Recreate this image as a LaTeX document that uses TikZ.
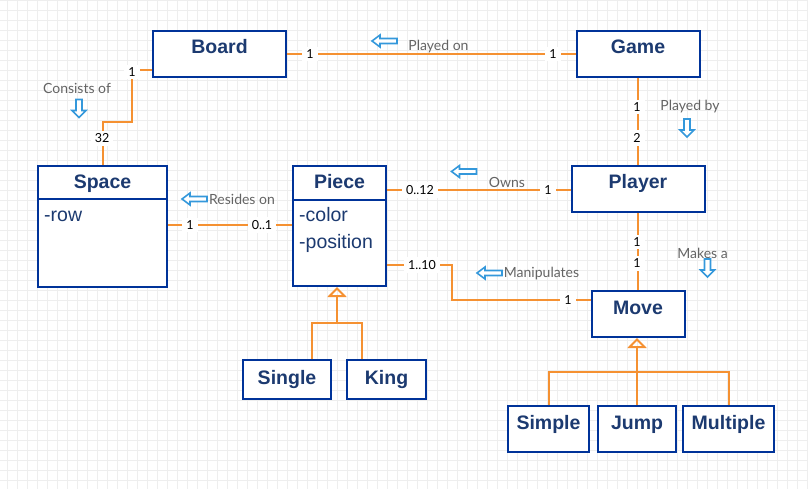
\documentclass[tikz,border=0pt]{standalone}
\usepackage{fontspec}
\setmainfont{Liberation Sans}
\newfontfamily\latofont{Lato}
\usetikzlibrary{arrows.meta,calc}
\definecolor{navy}{RGB}{0,51,153}
\definecolor{titlec}{RGB}{28,58,112}
\definecolor{orng}{RGB}{245,145,50}
\definecolor{arrblue}{RGB}{52,152,219}
\definecolor{lblgray}{RGB}{100,100,100}
\definecolor{gridc}{RGB}{238,238,238}
\tikzset{
  box/.style={draw=navy,line width=2pt,fill=white,inner sep=0pt,rectangle},
  title/.style={font=\fontsize{19.5}{22}\selectfont\bfseries,text=titlec,anchor=base,inner sep=0pt},
  attr/.style={font=\fontsize{19.5}{22}\selectfont,text=titlec,anchor=base west,inner sep=0pt},
  conn/.style={draw=orng,line width=2pt},
  mult/.style={font=\latofont\fontsize{12.5}{14}\selectfont,fill=white,inner xsep=4pt,inner ysep=3pt},
  rel/.style={font=\latofont\fontsize{14}{16}\selectfont,text=lblgray,inner sep=0pt},
  barrow/.style={draw=arrblue,line width=1.6pt,fill=white,line join=miter},
  inh/.style={-{Triangle[open,width=19pt,length=10pt]}},
  gridline/.style={draw=gridc,line width=0.8pt},
  larrow/.pic={\path[barrow] (-12.5,0) -- (-4.5,-6) -- (-4.5,-2.5) -- (12.5,-2.5) -- (12.5,2.5) -- (-4.5,2.5) -- (-4.5,6) -- cycle;},
  darrow/.pic={\path[barrow] (0,9) -- (-7,2) -- (-3,2) -- (-3,-9) -- (3,-9) -- (3,2) -- (7,2) -- cycle;}
}
\begin{document}
\begin{tikzpicture}[x=1pt,y=-1pt]
\useasboundingbox (0,0) rectangle (808,489);
\fill[white] (0,0) rectangle (808,489);
\foreach \gx in {7,17,...,807} \draw[gridline] (\gx,0) -- (\gx,489);
\foreach \gy in {0,10,...,480} \draw[gridline] (0,\gy) -- (808,\gy);

% boxes
\node[box,minimum width=133pt,minimum height=46pt] (Board) at (219.5,54) {};
\node[box,minimum width=123pt,minimum height=46pt] (Game) at (638,54) {};
\node[box,minimum width=129pt,minimum height=121pt] (Space) at (102.5,226.5) {};
\node[box,minimum width=93pt,minimum height=120pt] (Piece) at (339.5,226) {};
\node[box,minimum width=133pt,minimum height=46pt] (Player) at (638,189) {};
\node[box,minimum width=93pt,minimum height=46pt] (Move) at (638,314) {};
\node[box,minimum width=81pt,minimum height=46pt] (Simple) at (548.5,429) {};
\node[box,minimum width=78pt,minimum height=46pt] (Jump) at (637,429) {};
\node[box,minimum width=91pt,minimum height=46pt] (Multiple) at (728.5,429) {};
\node[box,minimum width=88pt,minimum height=39pt] (Single) at (287,379.5) {};
\node[box,minimum width=79pt,minimum height=39pt] (King) at (386.5,379.5) {};

% dividers
\coordinate (d199) at (0,199);
\coordinate (d200) at (0,200);
\draw[navy,line width=2pt] (Space.west |- d199) -- (Space.east |- d199);
\draw[navy,line width=2pt] (Piece.west |- d200) -- (Piece.east |- d200);

% titles
\node[title] (tBoard) at (219.5,54) {Board};
\node[title] (tGame) at (638,54) {Game};
\node[title] (tSpace) at (102.5,189) {Space};
\node[title] (tPiece) at (339.5,189) {Piece};
\node[title] (tPlayer) at (638,189) {Player};
\node[title] (tMove) at (638,314) {Move};
\node[title] (tSimple) at (548.5,429) {Simple};
\node[title] (tJump) at (637,429) {Jump};
\node[title] (tMultiple) at (728.5,429) {Multiple};
\node[title] (tSingle) at (287,384) {Single};
\node[title] (tKing) at (386.5,384) {King};

% attributes
\node[attr] (aRow) at (44,222) {-row};
\node[attr] (aColor) at (299,222) {-color};
\node[attr] (aPos) at (299,248) {-position};

% connectors
\coordinate (c70) at (0,70);
\coordinate (c122) at (0,122);
\coordinate (c132) at (132,0);
\coordinate (c190) at (0,190);
\coordinate (c225) at (0,225);
\coordinate (c265) at (0,265);
\coordinate (c452) at (452,0);
\coordinate (movein) at ($(Move.west)+(0,-14)$);
\coordinate (pj) at (337,323);
\coordinate (mj) at (637,372);

\draw[conn] (Board.east) -- (Game.west);
\draw[conn] (Board.west |- c70) -| (c132 |- c122) -| (Space.north);
\draw[conn] (Game.south) -- (Player.north);
\draw[conn] (Piece.east |- c190) -- (Player.west |- c190);
\draw[conn] (Space.east |- c225) -- (Piece.west |- c225);
\draw[conn] (Piece.east |- c265) -| (c452 |- movein) -- (movein);
\draw[conn] (Player.south) -- (Move.north);

% inheritance
\draw[conn] ([xshift=25pt]Single.north) |- (pj) -| ([xshift=-24.5pt]King.north);
\draw[conn,inh] (pj) -- (pj |- Piece.south);
\draw[conn] (Simple.north) |- (mj) -| (Multiple.north);
\draw[conn] (Jump.north) -- (mj);
\draw[conn,inh] (mj) -- (mj |- Move.south);

% multiplicities
\node[mult] (m1) at (310,54) {1};
\node[mult] (m2) at (553,54) {1};
\node[mult] (m3) at (132,72) {1};
\node[mult] (m4) at (102,138.5) {32};
\node[mult] (m5) at (637,107) {1};
\node[mult] (m6) at (637,138) {2};
\node[mult] (m7) at (420,190) {0..12};
\node[mult] (m8) at (548,190) {1};
\node[mult] (m9) at (190,225) {1};
\node[mult] (m10) at (262,225) {0..1};
\node[mult] (m11) at (422,265) {1..10};
\node[mult] (m12) at (568,300) {1};
\node[mult] (m13) at (637,242) {1};
\node[mult] (m14) at (637,263.5) {1};

% relation labels
\node[rel] (rPlayedOn) at (438.5,46.5) {Played on};
\node[rel] (rConsists) at (77,88) {Consists of};
\node[rel] (rPlayedBy) at (690,107) {Played by};
\node[rel] (rOwns) at (507,182) {Owns};
\node[rel] (rResides) at (242,199) {Resides on};
\node[rel] (rManip) at (541.5,273.5) {Manipulates};
\node[rel] (rMakes) at (702.5,253) {Makes a};

% direction arrows
\pic at (384.5,41) {larrow};
\pic at (464,171.5) {larrow};
\pic at (194.5,199) {larrow};
\pic at (489.5,273) {larrow};
\pic at (79,108.5) {darrow};
\pic at (687,128) {darrow};
\pic at (707.5,268) {darrow};
\end{tikzpicture}
\end{document}
